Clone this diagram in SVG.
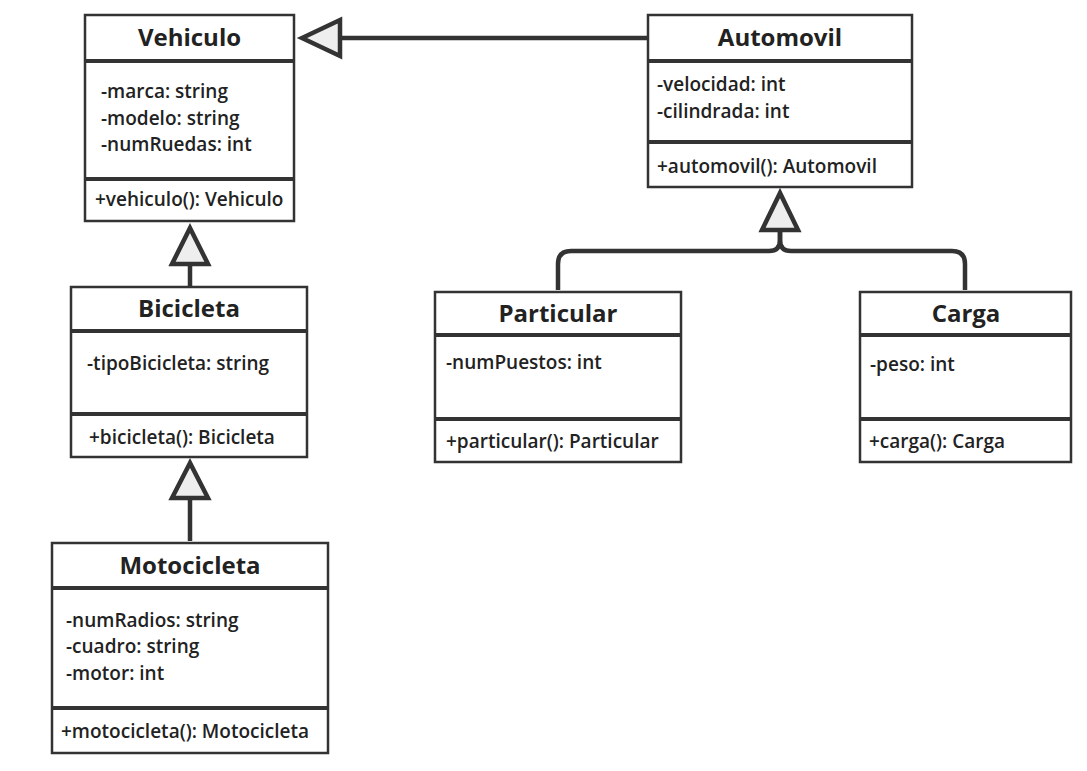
<svg xmlns="http://www.w3.org/2000/svg" width="1087" height="771" viewBox="0 0 1087 771">
<style>
.box{fill:#fff;stroke:#333;stroke-width:2.5}
.sep{stroke:#333;stroke-width:4}
.title{font-family:"Open Sans",sans-serif;font-weight:700;font-size:24px;fill:#222;text-anchor:middle}
.attr{font-family:"Open Sans",sans-serif;font-weight:600;font-size:19px;fill:#222}
.edge{fill:none;stroke:#333;stroke-width:4.5}
.tri{fill:#eee;stroke:#333;stroke-width:4.5;stroke-linejoin:miter}
</style>
<rect width="1087" height="771" fill="#fff"/>
<g id="connectors">
  <path class="edge" d="M648,38 H338"/>
  <polygon class="tri" points="302,38 340,20 340,56"/>
  <path class="edge" d="M190,287 V262"/>
  <polygon class="tri" points="190,228 172,264 208,264"/>
  <path class="edge" d="M190,541 V496"/>
  <polygon class="tri" points="190,463 172,498 208,498"/>
  <path class="edge" d="M558,290 V264 Q558,251 571,251 H769 Q780,251 780,240 V232"/>
  <path class="edge" d="M965,290 V264 Q965,251 952,251 H791 Q780,251 780,240 V232"/>
  <polygon class="tri" points="780,193 762,230 798,230"/>
</g>
<g id="vehiculo">
  <rect class="box" x="85" y="15" width="209" height="206"/>
  <line class="sep" x1="85" y1="61" x2="294" y2="61"/>
  <line class="sep" x1="85" y1="179" x2="294" y2="179"/>
  <text class="title" x="189.5" y="46">Vehiculo</text>
  <text class="attr" x="101" y="98">-marca: string</text>
  <text class="attr" x="101" y="125">-modelo: string</text>
  <text class="attr" x="101" y="151">-numRuedas: int</text>
  <text class="attr" x="95" y="206">+vehiculo(): Vehiculo</text>
</g>
<g id="automovil">
  <rect class="box" x="648" y="15" width="264" height="172"/>
  <line class="sep" x1="648" y1="61" x2="912" y2="61"/>
  <line class="sep" x1="648" y1="142" x2="912" y2="142"/>
  <text class="title" x="780" y="46">Automovil</text>
  <text class="attr" x="657" y="91">-velocidad: int</text>
  <text class="attr" x="657" y="118">-cilindrada: int</text>
  <text class="attr" x="657" y="173">+automovil(): Automovil</text>
</g>
<g id="bicicleta">
  <rect class="box" x="71" y="287" width="236" height="170"/>
  <line class="sep" x1="71" y1="331" x2="307" y2="331"/>
  <line class="sep" x1="71" y1="414" x2="307" y2="414"/>
  <text class="title" x="189" y="317">Bicicleta</text>
  <text class="attr" x="87" y="370">-tipoBicicleta: string</text>
  <text class="attr" x="89" y="444">+bicicleta(): Bicicleta</text>
</g>
<g id="motocicleta">
  <rect class="box" x="52" y="543" width="276" height="210"/>
  <line class="sep" x1="52" y1="588" x2="328" y2="588"/>
  <line class="sep" x1="52" y1="708" x2="328" y2="708"/>
  <text class="title" x="190" y="574">Motocicleta</text>
  <text class="attr" x="66" y="627">-numRadios: string</text>
  <text class="attr" x="66" y="653">-cuadro: string</text>
  <text class="attr" x="66" y="680">-motor: int</text>
  <text class="attr" x="61" y="738">+motocicleta(): Motocicleta</text>
</g>
<g id="particular">
  <rect class="box" x="435" y="292" width="246" height="170"/>
  <line class="sep" x1="435" y1="335" x2="681" y2="335"/>
  <line class="sep" x1="435" y1="419" x2="681" y2="419"/>
  <text class="title" x="558" y="322">Particular</text>
  <text class="attr" x="446" y="369">-numPuestos: int</text>
  <text class="attr" x="446" y="448">+particular(): Particular</text>
</g>
<g id="carga">
  <rect class="box" x="860" y="292" width="211" height="170"/>
  <line class="sep" x1="860" y1="335" x2="1071" y2="335"/>
  <line class="sep" x1="860" y1="419" x2="1071" y2="419"/>
  <text class="title" x="966" y="322">Carga</text>
  <text class="attr" x="870" y="371">-peso: int</text>
  <text class="attr" x="869" y="448">+carga(): Carga</text>
</g>
</svg>
